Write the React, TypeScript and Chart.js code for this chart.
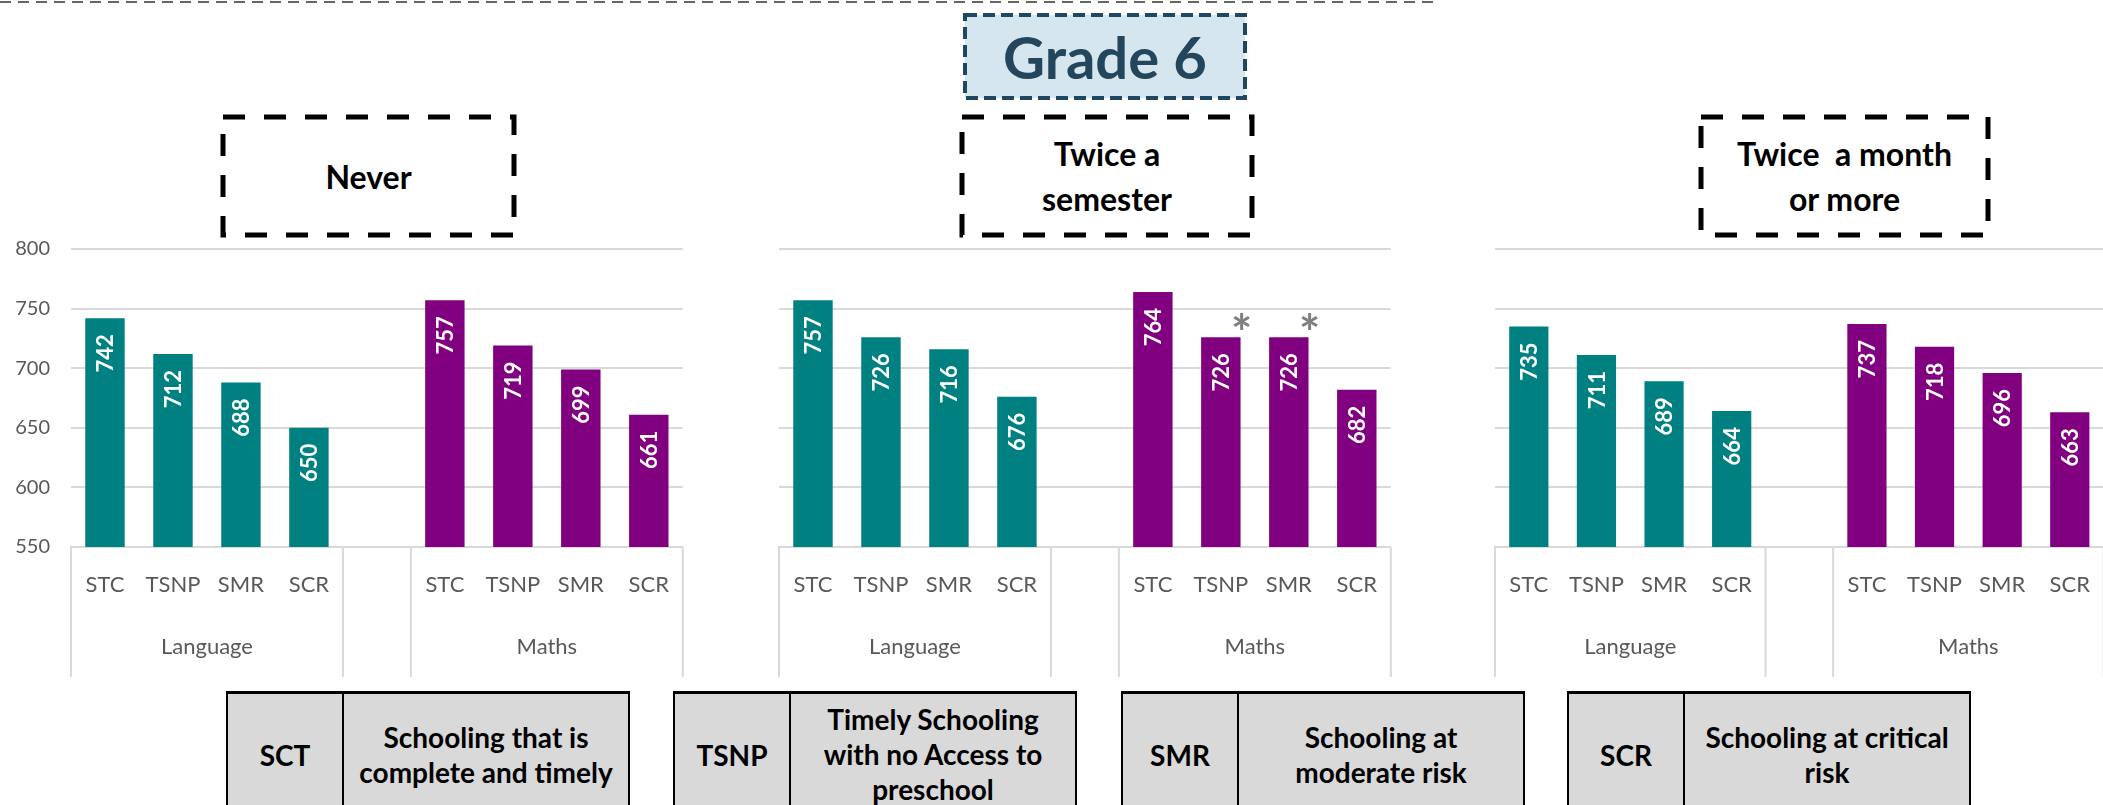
import React, { useEffect, useRef } from "react";
import { Chart, registerables } from "chart.js";

Chart.register(...registerables);
Chart.defaults.font.family = "Lato, 'Open Sans', sans-serif";

// ---------- data ----------
const categories = ["STC", "TSNP", "SMR", "SCR", "", "STC", "TSNP", "SMR", "SCR"];
const groupLabels = ["Language", "Maths"];
const groupFrom = [0, 5];
const groupTo = [3, 8];
const yTicks = [550, 600, 650, 700, 750, 800];

const neverLanguage = [742, 712, 688, 650];
const neverMaths = [757, 719, 699, 661];
const semesterLanguage = [757, 726, 716, 676];
const semesterMaths = [764, 726, 726, 682];
const monthLanguage = [735, 711, 689, 664];
const monthMaths = [737, 718, 696, 663];
const semesterMathsMarked = [false, true, true, false];

const gradeTitle = "Grade 6";
const panelTitles = ["Never", "Twice a\nsemester", "Twice  a month\nor more"];
const legendCodes = ["SCT", "TSNP", "SMR", "SCR"];
const legendNames = [
  "Schooling that is\ncomplete and timely",
  "Timely Schooling\nwith no Access to\npreschool",
  "Schooling at\nmoderate risk",
  "Schooling at critical\nrisk",
];

// ---------- styles ----------
const TEAL = "#008080";
const PURPLE = "#800080";
const GRID = "#d9d9d9";
const TICK = "#595959";
const FONT = "Lato, 'Open Sans', sans-serif";
const AXIS_H = 130;

const decorPlugin = {
  id: "decor",
  afterDatasetsDraw(chart: any, _args: any, opts: any) {
    const ctx = chart.ctx;
    chart.data.datasets.forEach((ds: any, di: number) => {
      const meta = chart.getDatasetMeta(di);
      meta.data.forEach((bar: any, i: number) => {
        const v = ds.data[i];
        if (v == null) return;
        ctx.save();
        ctx.translate(bar.x + 1, bar.y + 16);
        ctx.rotate(-Math.PI / 2);
        ctx.font = `bold 22px ${FONT}`;
        ctx.fillStyle = "#ffffff";
        ctx.textAlign = "right";
        ctx.textBaseline = "middle";
        ctx.fillText(String(v), 0, 0);
        ctx.restore();
        const marks = opts.marks || [];
        if (marks[i]) {
          ctx.save();
          ctx.font = `bold 50px ${FONT}`;
          ctx.fillStyle = "#7f7f7f";
          ctx.textAlign = "center";
          ctx.textBaseline = "alphabetic";
          ctx.fillText("*", bar.x + bar.width / 2 + 1, bar.y + 14);
          ctx.restore();
        }
      });
    });
  },
  afterDraw(chart: any) {
    const ctx = chart.ctx;
    const x = chart.scales.x;
    const y = chart.scales.y;
    const cat = (x.right - x.left) / categories.length;
    ctx.save();
    ctx.strokeStyle = GRID;
    ctx.lineWidth = 2;
    const edges: number[] = [];
    groupFrom.forEach((f, g) => {
      edges.push(x.getPixelForValue(f) - cat / 2);
      edges.push(x.getPixelForValue(groupTo[g]) + cat / 2);
    });
    edges.forEach((px) => {
      ctx.beginPath();
      ctx.moveTo(px, y.bottom);
      ctx.lineTo(px, y.bottom + AXIS_H);
      ctx.stroke();
    });
    ctx.font = `22px ${FONT}`;
    ctx.fillStyle = TICK;
    ctx.textAlign = "center";
    ctx.textBaseline = "middle";
    groupLabels.forEach((lbl, g) => {
      const cx = (x.getPixelForValue(groupFrom[g]) + x.getPixelForValue(groupTo[g])) / 2;
      ctx.fillText(lbl, cx, y.bottom + 100);
    });
    ctx.restore();
  },
};

type PanelProps = {
  left: number;
  width: number;
  lang: number[];
  maths: number[];
  marks?: boolean[];
  showY: boolean;
};

function Panel({ left, width, lang, maths, marks, showY }: PanelProps) {
  const ref = useRef<HTMLCanvasElement>(null);
  useEffect(() => {
    const langData = categories.map((_, i) =>
      i >= groupFrom[0] && i <= groupTo[0] ? lang[i - groupFrom[0]] : null
    );
    const mathData = categories.map((_, i) =>
      i >= groupFrom[1] && i <= groupTo[1] ? maths[i - groupFrom[1]] : null
    );
    const markData = categories.map((_, i) =>
      marks && i >= groupFrom[1] && i <= groupTo[1] ? marks[i - groupFrom[1]] : false
    );
    const chart = new Chart(ref.current as HTMLCanvasElement, {
      type: "bar",
      data: {
        labels: categories,
        datasets: [
          {
            label: groupLabels[0],
            data: langData,
            backgroundColor: TEAL,
            grouped: false,
            categoryPercentage: 1,
            barPercentage: 0.58,
          } as any,
          {
            label: groupLabels[1],
            data: mathData,
            backgroundColor: PURPLE,
            grouped: false,
            categoryPercentage: 1,
            barPercentage: 0.58,
          } as any,
        ],
      },
      options: {
        responsive: false,
        animation: false,
        layout: { padding: { top: 49, left: 0, right: 0, bottom: 0 } },
        plugins: {
          legend: { display: false },
          tooltip: { enabled: false },
          decor: { marks: markData },
        } as any,
        scales: {
          x: {
            grid: { display: false, drawTicks: false },
            border: { display: true, color: GRID, width: 2 },
            ticks: {
              color: TICK,
              font: { size: 22, family: FONT },
              padding: 25,
              maxRotation: 0,
              autoSkip: false,
            },
            afterFit: (s: any) => {
              s.height = AXIS_H;
            },
          },
          y: {
            min: 550,
            max: 800,
            grid: { color: GRID, lineWidth: 2, drawTicks: false },
            border: { display: false },
            ticks: { display: showY, color: TICK, font: { size: 20, family: FONT }, padding: 21 },
            afterBuildTicks: (s: any) => {
              s.ticks = yTicks.map((v) => ({ value: v }));
            },
            afterFit: (s: any) => {
              s.width = 71;
            },
          },
        },
      } as any,
      plugins: [decorPlugin],
    });
    return () => chart.destroy();
  }, []);
  return (
    <canvas
      ref={ref}
      width={width}
      height={477}
      style={{ position: "absolute", left, top: 200, width, height: 477 }}
    />
  );
}

function TitleBox({ left, width, text }: { left: number; width: number; text: string }) {
  return (
    <div
      style={{
        position: "absolute",
        left,
        top: 115,
        width,
        height: 122,
        display: "flex",
        alignItems: "center",
        justifyContent: "center",
        textAlign: "center",
        whiteSpace: "pre",
        font: `bold 32px ${FONT}`,
        lineHeight: "45px",
        color: "#000",
      }}
    >
      {text}
    </div>
  );
}

function LegendTable({ left, code, name }: { left: number; code: string; name: string }) {
  return (
    <div
      style={{
        position: "absolute",
        left,
        top: 691,
        width: 404,
        height: 124,
        boxSizing: "border-box",
        background: "#d9d9d9",
        borderTop: "3px solid #000",
        borderLeft: "2px solid #000",
        borderRight: "2px solid #000",
        display: "flex",
        font: `bold 28px ${FONT}`,
        color: "#000",
      }}
    >
      <div
        style={{
          width: 114,
          borderRight: "2px solid #000",
          display: "flex",
          alignItems: "center",
          justifyContent: "center",
        }}
      >
        {code}
      </div>
      <div
        style={{
          flex: 1,
          display: "flex",
          alignItems: "center",
          justifyContent: "center",
          textAlign: "center",
          whiteSpace: "pre",
          lineHeight: "35px",
        }}
      >
        {name}
      </div>
    </div>
  );
}

export default function App() {
  const titleRects = [
    { x: 221, w: 295 },
    { x: 960, w: 294 },
    { x: 1699, w: 291 },
  ];
  const tableLefts = [226, 673, 1121, 1567];
  return (
    <div
      style={{
        position: "fixed",
        left: 0,
        top: 0,
        width: 2103,
        height: 805,
        overflow: "hidden",
        background: "#fff",
        fontFamily: FONT,
      }}
    >
      <svg width={2103} height={805} style={{ position: "absolute", left: 0, top: 0 }}>
        <line x1={0} y1={2} x2={1440} y2={2} stroke="#666" strokeWidth={2} strokeDasharray="11 7" />
        <rect x={965} y={15} width={280} height={83} fill="#d6e6ef" stroke="#1f4860" strokeWidth={4} strokeDasharray="12 6" />
        {titleRects.map((r, i) => (
          <rect key={i} x={r.x + 2} y={117} width={r.w - 4} height={118} fill="none" stroke="#000" strokeWidth={5} strokeDasharray="22 19" />
        ))}
      </svg>
      <div
        style={{
          position: "absolute",
          left: 963,
          top: 13,
          width: 284,
          height: 87,
          display: "flex",
          alignItems: "center",
          justifyContent: "center",
          font: `bold 58px ${FONT}`,
          color: "#23465c",
        }}
      >
        {gradeTitle}
      </div>
      {panelTitles.map((t, i) => (
        <TitleBox key={i} left={titleRects[i].x} width={titleRects[i].w} text={t} />
      ))}
      <Panel left={0} width={694} lang={neverLanguage} maths={neverMaths} showY={true} />
      <Panel left={708} width={694} lang={semesterLanguage} maths={semesterMaths} marks={semesterMathsMarked} showY={false} />
      <Panel left={1424} width={691} lang={monthLanguage} maths={monthMaths} showY={false} />
      {legendCodes.map((c, i) => (
        <LegendTable key={i} left={tableLefts[i]} code={c} name={legendNames[i]} />
      ))}
    </div>
  );
}
